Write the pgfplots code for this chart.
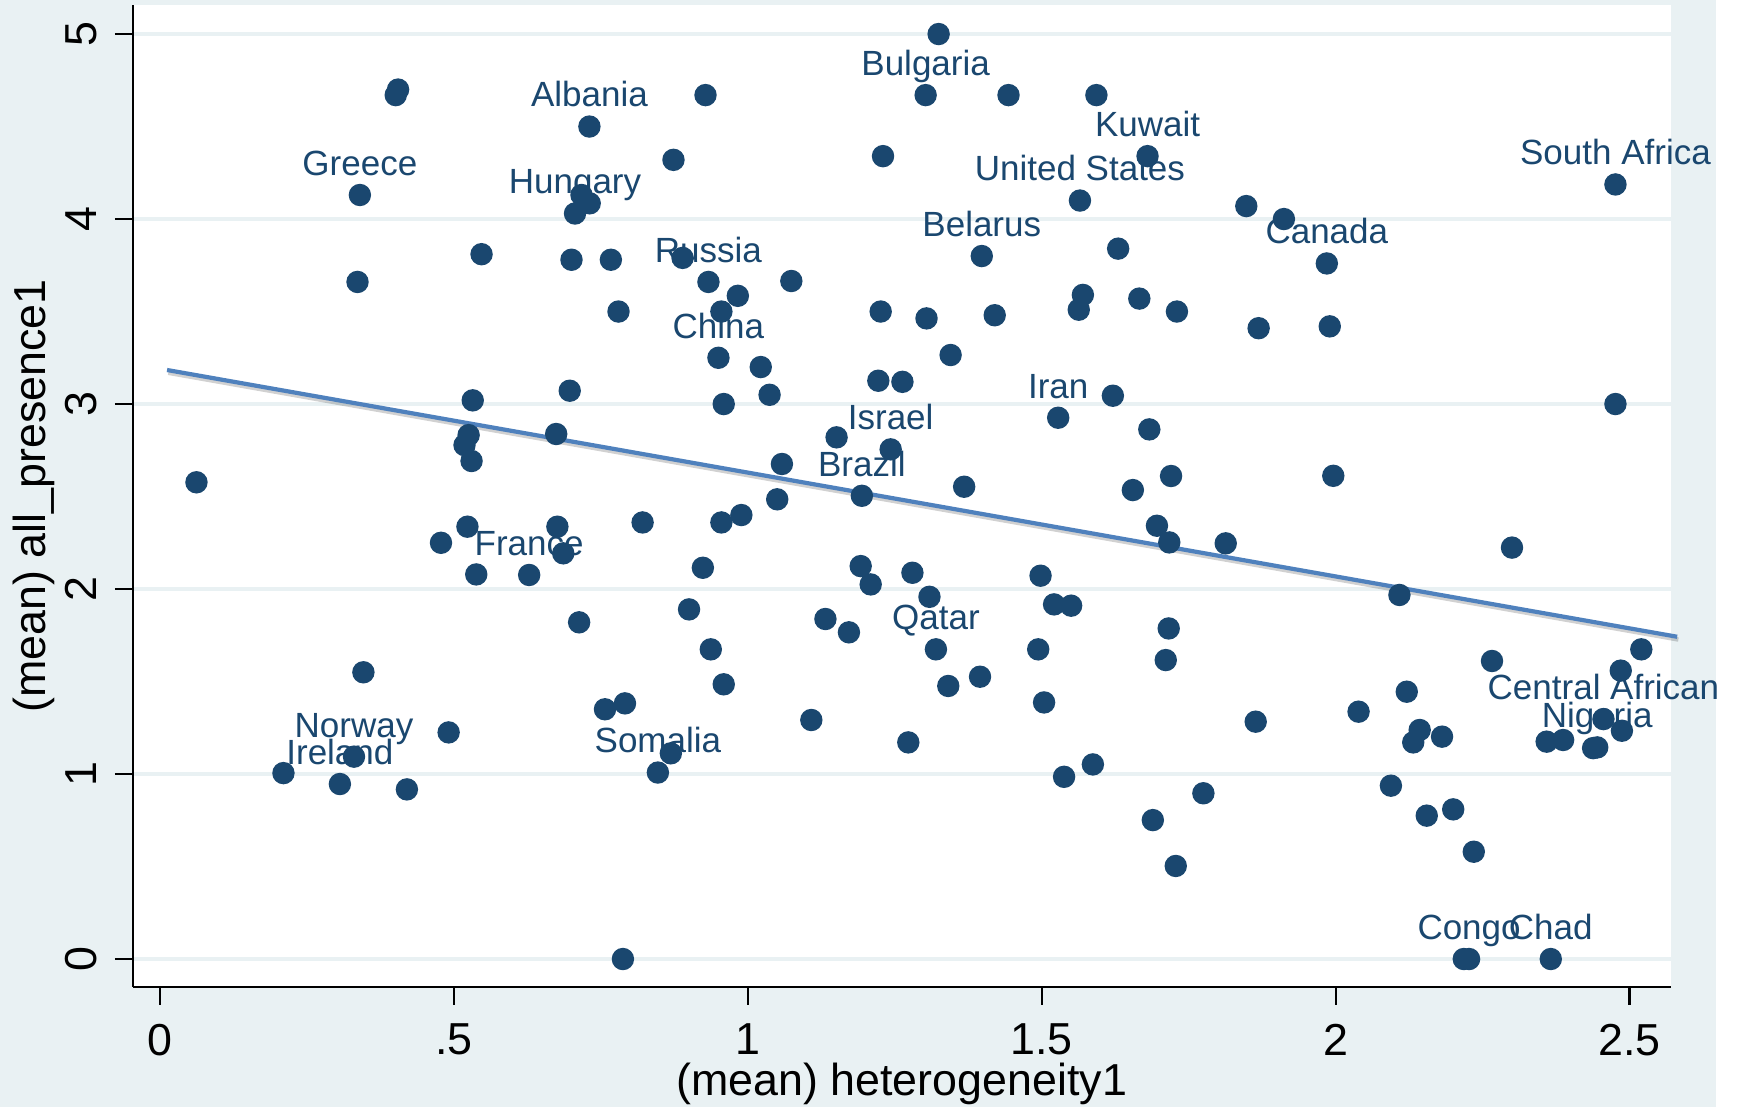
\documentclass[border=0pt]{standalone}
\usepackage{pgfplots}
\pgfplotsset{compat=1.18}
\usepackage{pgfplotstable}
\usepackage{fontspec}
\setmainfont{Liberation Sans}
\definecolor{bgc}{RGB}{233,241,243}
\definecolor{gridc}{RGB}{233,241,243}
\definecolor{navy}{RGB}{26,71,111}
\definecolor{fitc}{RGB}{79,129,189}

\pgfplotstableread[col sep=comma, row sep=\\]{
x,y\\
0.062,2.577\\
0.210,1.005\\
0.306,0.946\\
0.330,1.094\\
0.336,3.66\\
0.340,4.13\\
0.346,1.55\\
0.401,4.67\\
0.405,4.70\\
0.420,0.917\\
0.478,2.25\\
0.491,1.225\\
0.518,2.778\\
0.523,2.337\\
0.525,2.832\\
0.530,2.692\\
0.532,3.02\\
0.538,2.079\\
0.547,3.81\\
0.628,2.076\\
0.674,2.838\\
0.676,2.337\\
0.686,2.193\\
0.697,3.072\\
0.700,3.78\\
0.706,4.03\\
0.713,1.82\\
0.717,4.13\\
0.731,4.085\\
0.7305,4.50\\
0.757,1.35\\
0.767,3.78\\
0.780,3.50\\
0.7875,0\\
0.791,1.382\\
0.821,2.36\\
0.847,1.008\\
0.869,1.112\\
0.8735,4.32\\
0.889,3.79\\
0.900,1.89\\
0.9235,2.115\\
0.928,4.67\\
0.933,3.66\\
0.937,1.674\\
0.950,3.25\\
0.955,3.50\\
0.955,2.36\\
0.959,3.00\\
0.959,1.485\\
0.983,3.585\\
0.989,2.40\\
1.022,3.20\\
1.037,3.05\\
1.050,2.485\\
1.058,2.676\\
1.074,3.665\\
1.108,1.292\\
1.132,1.838\\
1.151,2.82\\
1.172,1.766\\
1.192,2.124\\
1.194,2.504\\
1.209,2.025\\
1.222,3.126\\
1.226,3.50\\
1.230,4.34\\
1.243,2.755\\
1.263,3.12\\
1.273,1.171\\
1.280,2.088\\
1.3025,4.67\\
1.304,3.463\\
1.309,1.958\\
1.320,1.674\\
1.3246,5.00\\
1.341,1.476\\
1.345,3.265\\
1.368,2.553\\
1.395,1.526\\
1.398,3.80\\
1.420,3.48\\
1.4435,4.67\\
1.494,1.674\\
1.498,2.072\\
1.504,1.387\\
1.521,1.917\\
1.528,2.926\\
1.538,0.985\\
1.550,1.91\\
1.563,3.51\\
1.565,4.10\\
1.570,3.59\\
1.587,1.052\\
1.593,4.67\\
1.621,3.045\\
1.630,3.84\\
1.655,2.535\\
1.666,3.57\\
1.680,4.34\\
1.683,2.863\\
1.689,0.751\\
1.696,2.342\\
1.711,1.616\\
1.716,1.787\\
1.717,2.252\\
1.720,2.611\\
1.728,0.503\\
1.730,3.50\\
1.775,0.896\\
1.813,2.247\\
1.848,4.07\\
1.864,1.283\\
1.869,3.41\\
1.912,4.00\\
1.985,3.76\\
1.990,3.42\\
1.996,2.612\\
2.039,1.337\\
2.094,0.937\\
2.1085,1.968\\
2.121,1.445\\
2.132,1.171\\
2.143,1.238\\
2.155,0.775\\
2.181,1.202\\
2.200,0.809\\
2.218,0\\
2.227,0\\
2.235,0.58\\
2.266,1.611\\
2.300,2.224\\
2.359,1.175\\
2.366,0\\
2.387,1.184\\
2.438,1.140\\
2.445,1.144\\
2.4556,1.297\\
2.476,4.187\\
2.476,3.00\\
2.485,1.559\\
2.487,1.234\\
2.520,1.674\\
}\allpts

\pgfplotstableread[col sep=comma, row sep=\\]{
x,y,label\\
0.340,4.13,Greece\\
0.7305,4.50,Albania\\
0.706,4.03,Hungary\\
0.933,3.66,Russia\\
0.950,3.25,China\\
1.3025,4.67,Bulgaria\\
1.680,4.34,Kuwait\\
1.565,4.10,United States\\
1.398,3.80,Belarus\\
1.985,3.76,Canada\\
2.476,4.187,South Africa\\
1.528,2.926,Iran\\
1.243,2.755,Israel\\
1.194,2.504,Brazil\\
0.628,2.076,France\\
1.320,1.674,Qatar\\
0.330,1.094,Norway\\
0.306,0.946,Ireland\\
0.847,1.008,Somalia\\
2.4556,1.297,Central African\\
2.445,1.144,Nigeria\\
2.227,0,Congo\\
2.366,0,Chad\\
}\labpts

\begin{document}
\begin{tikzpicture}
\fill[white] (0,0) rectangle (435.5pt,276.75pt);
\fill[bgc] (0,0) rectangle (429pt,276.75pt);
\path[use as bounding box] (0,0) rectangle (435.5pt,276.75pt);
\begin{axis}[
  at={(33.2pt,30.075pt)}, anchor=south west,
  scale only axis, width=384.425pt, height=245.425pt,
  xmin=-0.0463, xmax=2.5697, ymin=-0.1497, ymax=5.157,
  axis x line*=bottom, axis y line*=left,
  axis line style={black, line width=0.55pt, -},
  every outer x axis line/.append style={-},
  every outer y axis line/.append style={-},
  axis background/.style={fill=white},
  xtick={0,0.5,1,1.5,2,2.5}, xticklabels={0,.5,1,1.5,2,2.5},
  ytick={0,1,2,3,4,5}, yticklabels={0,1,2,3,4,5},
  tick align=outside, major tick length=4.5pt,
  tick style={black, line width=0.55pt},
  ymajorgrids, grid style={gridc, line width=0.85pt},
  xticklabel style={anchor=north, inner sep=0pt, yshift=-4.6pt, font=\fontsize{11.2}{12}\selectfont},
  yticklabel style={rotate=90, anchor=base, inner sep=0pt, yshift=4.5pt, font=\fontsize{11.2}{12}\selectfont},
  xlabel={(mean) heterogeneity1}, ylabel={(mean) all\_presence1},
  every axis x label/.style={at={(axis description cs:0.5,-0.1103)}, anchor=base, inner sep=0pt, font=\fontsize{11.2}{12}\selectfont},
  every axis y label/.style={at={(axis description cs:-0.05645,0.5)}, rotate=90, anchor=base, inner sep=0pt, font=\fontsize{11.2}{12}\selectfont},
  clip=false,
]
\addplot[only marks, mark=*, mark size=0.01pt, mark options={draw=none, fill=none},
  nodes near coords, point meta=explicit symbolic,
  every node near coord/.append style={anchor=base, yshift=4.9pt, inner sep=0pt, text=navy, font=\fontsize{8.75}{10}\selectfont}]
  table[x=x, y=y, meta=label]{\labpts};
\addplot[only marks, color=navy, mark=*, mark size=2.6pt, mark options={solid, draw=navy, fill=navy, line width=0.4pt}] table[x=x, y=y]{\allpts};
\addplot[no marks, line width=1.1pt, black, opacity=0.18, yshift=-0.7pt, xshift=0.3pt] coordinates {(0.012,3.184) (2.581,1.742)};
\addplot[no marks, line width=1.05pt, fitc] coordinates {(0.012,3.184) (2.581,1.742)};
\end{axis}
\end{tikzpicture}
\end{document}
